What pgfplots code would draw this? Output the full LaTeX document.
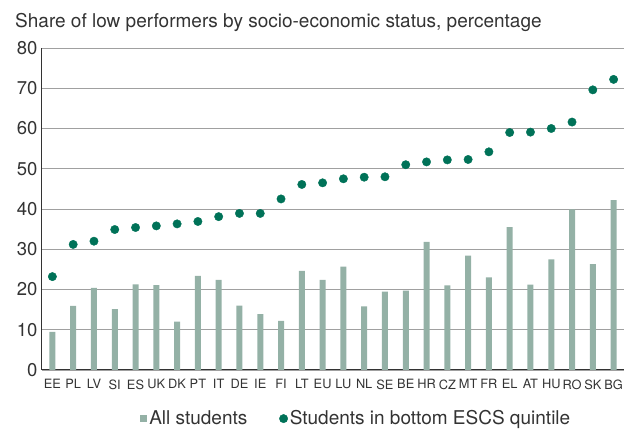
\documentclass[border=0pt]{standalone}
\usepackage{pgfplots}
\pgfplotsset{compat=1.18}
\usepackage{fontspec}
\setmainfont{TeX Gyre Heros}
\definecolor{barcol}{RGB}{148,177,166}
\definecolor{dotcol}{RGB}{0,114,88}
\definecolor{txt}{RGB}{51,51,51}
\definecolor{gridc}{RGB}{160,160,160}

\begin{document}
\begin{tikzpicture}
\begin{axis}[
    scale only axis,
    width=582pt, height=322pt,
    xmin=-0.5, xmax=27.5,
    ymin=0, ymax=80,
    ytick={0,10,...,80},
    xtick={0,...,27},
    xticklabels={EE,PL,LV,SI,ES,UK,DK,PT,IT,DE,IE,FI,LT,EU,LU,NL,SE,BE,HR,CZ,MT,FR,EL,AT,HU,RO,SK,BG},
    major tick length=0pt,
    axis x line*=bottom,
    axis y line*=left,
    axis line style={-, draw=txt, line width=1pt},
    ymajorgrids,
    grid style={gridc, line width=0.9pt},
    /pgf/number format/assume math mode=true,
    yticklabel style={font=\fontsize{18.5}{18.5}\selectfont, text=txt, xshift=-1pt},
    xticklabel style={font=\fontsize{12.8}{12.8}\selectfont, text=txt, yshift=-6pt},
    legend columns=2,
    legend style={at={(axis description cs:0.54,-0.151)}, anchor=center,
        draw=none, fill=none, font=\fontsize{19}{19}\selectfont, text=txt,
        /tikz/every even column/.append style={column sep=30pt},
        inner sep=0pt},
]
\coordinate (ll) at (rel axis cs:0,0);
\coordinate (ur) at (rel axis cs:1,1);
\addplot[ybar, bar width=6pt, fill=barcol, draw=none,
    legend image code/.code={\fill[barcol] (0pt,-3.5pt) rectangle (7pt,3.5pt);}]
coordinates {
(0,9.5) (1,15.9) (2,20.4) (3,15.1) (4,21.3) (5,21.1) (6,12.0) (7,23.4)
(8,22.4) (9,16.0) (10,13.9) (11,12.2) (12,24.6) (13,22.4) (14,25.7) (15,15.8)
(16,19.5) (17,19.7) (18,31.8) (19,21.0) (20,28.4) (21,23.0) (22,35.5) (23,21.2)
(24,27.5) (25,39.9) (26,26.3) (27,42.2)
};
\addlegendentry{All students}
\addplot[only marks, mark=*, mark size=4.2pt, mark options={fill=dotcol, draw=dotcol}]
coordinates {
(0,23.2) (1,31.2) (2,32.0) (3,34.9) (4,35.4) (5,35.8) (6,36.3) (7,36.9)
(8,38.1) (9,38.9) (10,38.9) (11,42.5) (12,46.1) (13,46.5) (14,47.5) (15,47.9)
(16,48.0) (17,51.0) (18,51.7) (19,52.2) (20,52.3) (21,54.2) (22,59.0) (23,59.1)
(24,60.0) (25,61.6) (26,69.6) (27,72.2)
};
\addlegendentry{Students in bottom ESCS quintile}
\end{axis}
\node[anchor=base west, font=\fontsize{19}{19}\selectfont, text=txt, inner sep=0pt]
    at ([xshift=-27pt, yshift=20pt]ll |- ur) {Share of low performers by socio-economic status, percentage};
\pgfresetboundingbox
\path ([xshift=-42pt, yshift=-59pt]ll) rectangle ([yshift=48pt]ur);
\end{tikzpicture}
\end{document}
